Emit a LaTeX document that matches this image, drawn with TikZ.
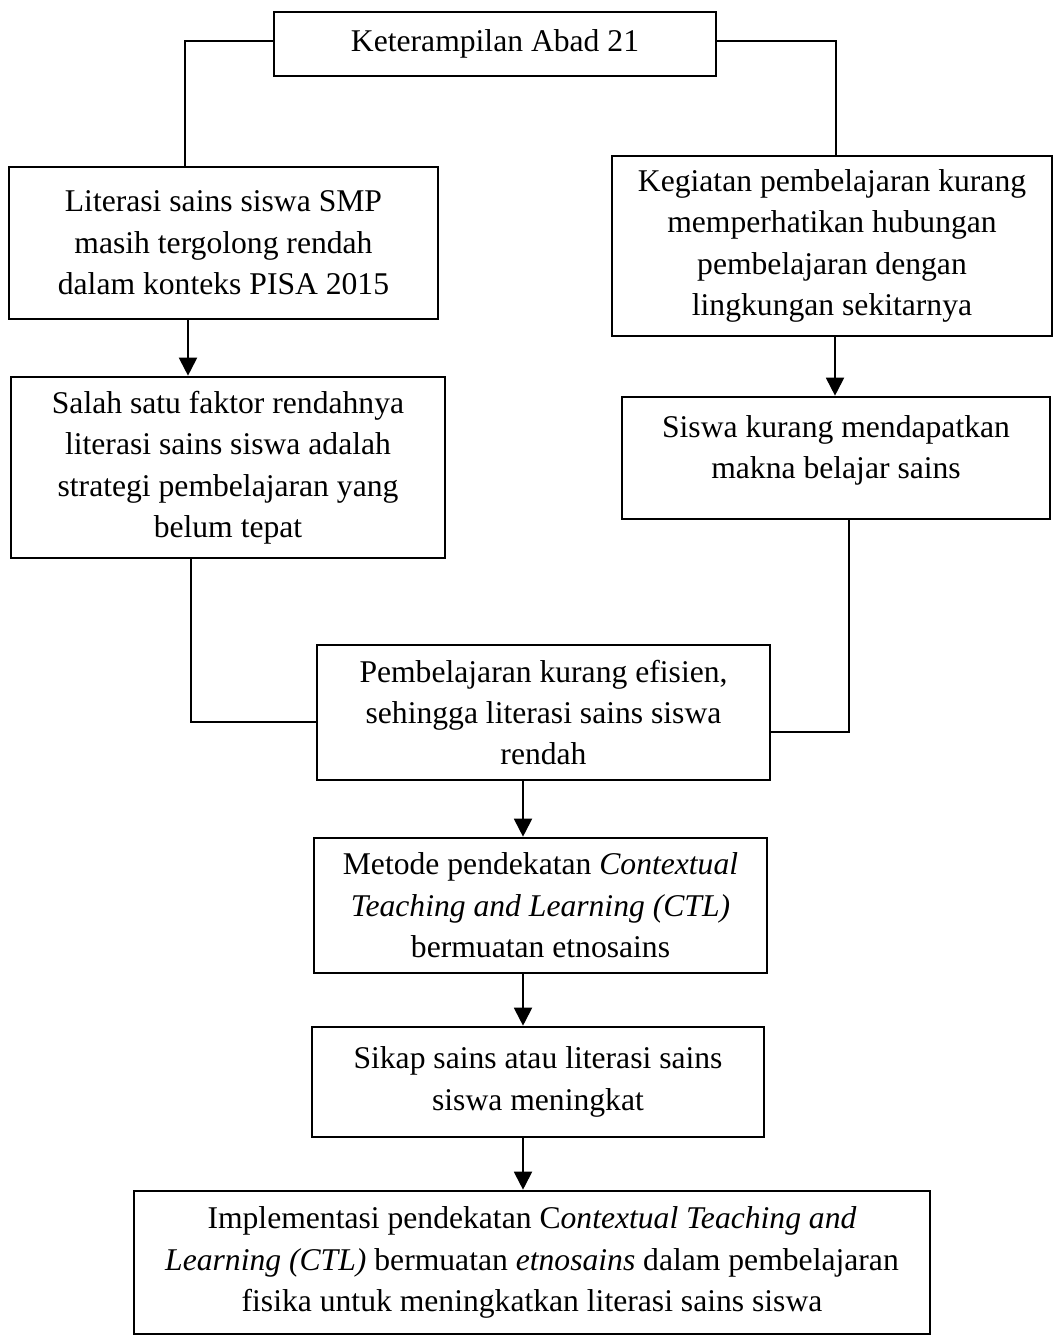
\documentclass[tikz,border=0pt]{standalone}
\usepackage{fontspec}
\setmainfont{Liberation Serif}
\usetikzlibrary{arrows.meta,positioning}

\begin{document}
\begin{tikzpicture}[
  box/.style={draw,line width=1.5pt,font=\fontsize{18}{23.6}\selectfont,
    align=center,inner sep=0pt},
  link/.style={line width=0.75pt},
  arr/.style={line width=1.1pt,-{Triangle[length=0.36cm,width=0.36cm]}}
]
  \useasboundingbox (0,0) rectangle (21.08,-26.74);
  % Skill of the century
  \node[box,minimum width=8.84cm,minimum height=1.28cm] (skill) at (9.9,-0.88) {Keterampilan Abad 21};
  % Left branch
  \node[box,minimum width=8.58cm,minimum height=3.04cm] (lit) at (4.47,-4.86) {Literasi sains siswa SMP\\
    masih tergolong rendah\\ dalam konteks PISA 2015};
  \node[box,minimum width=8.68cm,minimum height=3.62cm] (factor) at (4.56,-9.35) {Salah satu faktor rendahnya\\
    literasi sains siswa adalah\\ strategi pembelajaran yang\\ belum tepat};
  % Right branch
  \node[box,minimum width=8.8cm,minimum height=3.6cm] (activity) at (16.64,-4.92) {Kegiatan pembelajaran kurang\\
    memperhatikan hubungan\\ pembelajaran dengan\\ lingkungan sekitarnya};
  \node[box,minimum width=8.56cm,minimum height=2.44cm,text depth=0.44cm] (meaning) at (16.72,-9.16) {Siswa kurang mendapatkan\\
    makna belajar sains};
  % Middle column
  \node[box,minimum width=9.06cm,minimum height=2.7cm] (ineff) at (10.87,-14.25) {Pembelajaran kurang efisien,\\
    sehingga literasi sains siswa\\ rendah};
  \node[box,minimum width=9.06cm,minimum height=2.7cm] (ctl) at (10.81,-18.11) {Metode pendekatan \textit{Contextual}\\
    \textit{Teaching and Learning (CTL)}\\ bermuatan etnosains};
  \node[box,minimum width=9.04cm,minimum height=2.2cm] (attitude) at (10.76,-21.64) {Sikap sains atau literasi sains\\
    siswa meningkat};
  \node[box,minimum width=15.92cm,minimum height=2.86cm] (impl) at (10.64,-25.25) {Implementasi pendekatan C\textit{ontextual Teaching and}\\
    \textit{Learning (CTL)} bermuatan \textit{etnosains} dalam pembelajaran\\
    fisika untuk meningkatkan literasi sains siswa};
  \coordinate (spine) at (10.46,0);

  % Connectors
  \draw[link] ([yshift=0.06cm]skill.west) -| ([xshift=-0.77cm]lit.north);
  \draw[link] ([yshift=0.06cm]skill.east) -| ([xshift=0.08cm]activity.north);
  \draw[arr] ([xshift=-0.71cm]lit.south) -- ([xshift=-0.71cm]lit.south |- factor.north);
  \draw[arr] ([xshift=0.06cm]activity.south) -- ([xshift=0.06cm]activity.south |- meaning.north);
  \draw[link] ([xshift=-0.74cm]factor.south) |- ([yshift=-0.19cm]ineff.west);
  \draw[link] ([xshift=0.26cm]meaning.south) |- ([yshift=-0.39cm]ineff.east);
  \draw[arr] (ineff.south -| spine) -- (ctl.north -| spine);
  \draw[arr] (ctl.south -| spine) -- (attitude.north -| spine);
  \draw[arr] (attitude.south -| spine) -- (impl.north -| spine);
\end{tikzpicture}
\end{document}
